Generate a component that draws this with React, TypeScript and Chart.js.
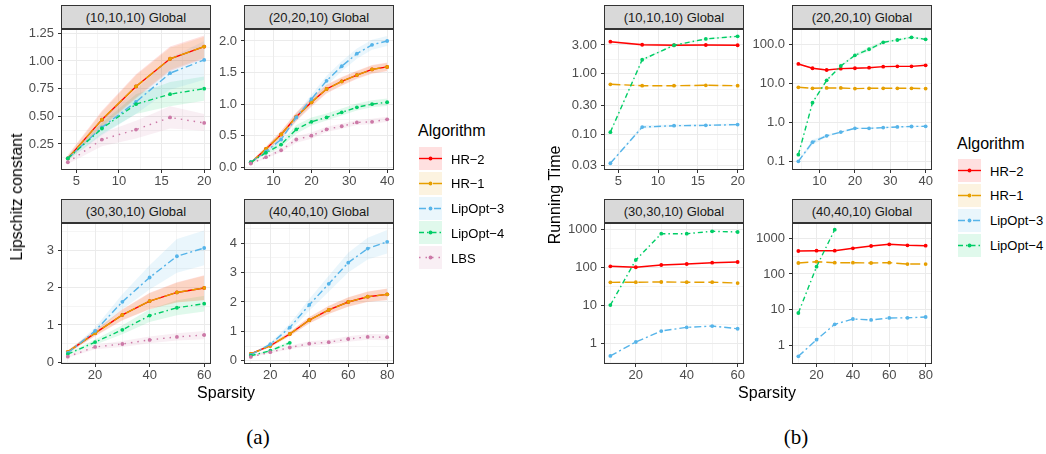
import React, { useEffect, useRef } from "react";
import { Chart, registerables } from "chart.js";

Chart.register(...registerables);

const SANS = "'Liberation Sans', Arial, Helvetica, sans-serif";
const SERIF = "'Liberation Serif', 'Times New Roman', serif";

// ---------------- categories (sparsity) ----------------
const SPARSITY_10 = [4, 8, 12, 16, 20];
const SPARSITY_20 = [4, 8, 12, 16, 20, 24, 28, 32, 36, 40];
const SPARSITY_30 = [10, 20, 30, 40, 50, 60];
const SPARSITY_40 = [10, 20, 30, 40, 50, 60, 70, 80];
const SPARSITY_40_LIPOPT4 = [10, 20, 30];

const ALGORITHMS = ["HR−2", "HR−1", "LipOpt−3", "LipOpt−4", "LBS"];
const FACET_TITLES = ["(10,10,10) Global", "(20,20,10) Global", "(30,30,10) Global", "(40,40,10) Global"];

// ---------------- tick labels ----------------
const X_TICKS_10 = [5, 10, 15, 20];
const X_LABELS_10 = ["5", "10", "15", "20"];
const X_TICKS_20 = [10, 20, 30, 40];
const X_LABELS_20 = ["10", "20", "30", "40"];
const X_TICKS_30 = [20, 40, 60];
const X_LABELS_30 = ["20", "40", "60"];
const X_TICKS_40 = [20, 40, 60, 80];
const X_LABELS_40 = ["20", "40", "60", "80"];

const Y_TICKS_LC1 = [0.25, 0.5, 0.75, 1.0, 1.25];
const Y_LABELS_LC1 = ["0.25", "0.50", "0.75", "1.00", "1.25"];
const Y_TICKS_LC2 = [0, 0.5, 1.0, 1.5, 2.0];
const Y_LABELS_LC2 = ["0.0", "0.5", "1.0", "1.5", "2.0"];
const Y_TICKS_LC3 = [0, 1, 2, 3];
const Y_LABELS_LC3 = ["0", "1", "2", "3"];
const Y_TICKS_LC4 = [0, 1, 2, 3, 4];
const Y_LABELS_LC4 = ["0", "1", "2", "3", "4"];

const Y_TICKS_RT1 = [0.03, 0.1, 0.3, 1, 3];
const Y_LABELS_RT1 = ["0.03", "0.10", "0.30", "1.00", "3.00"];
const Y_TICKS_RT2 = [0.1, 1, 10, 100];
const Y_LABELS_RT2 = ["0.1", "1.0", "10.0", "100.0"];
const Y_TICKS_RT34 = [1, 10, 100, 1000];
const Y_LABELS_RT34 = ["1", "10", "100", "1000"];

// ---------------- Lipschitz constant (a) ----------------
// (10,10,10)
const LC1_HR2 = [0.12, 0.47, 0.77, 1.02, 1.13];
const LC1_HR2_LO = [0.10, 0.40, 0.66, 0.91, 1.02];
const LC1_HR2_HI = [0.15, 0.55, 0.88, 1.13, 1.23];
const LC1_HR1 = [0.12, 0.47, 0.77, 1.02, 1.13];
const LC1_HR1_LO = [0.10, 0.41, 0.67, 0.92, 1.03];
const LC1_HR1_HI = [0.14, 0.54, 0.87, 1.12, 1.22];
const LC1_LIP3 = [0.12, 0.40, 0.63, 0.89, 1.01];
const LC1_LIP3_LO = [0.10, 0.33, 0.52, 0.74, 0.83];
const LC1_LIP3_HI = [0.14, 0.47, 0.74, 1.03, 1.18];
const LC1_LIP4 = [0.12, 0.39, 0.61, 0.70, 0.75];
const LC1_LIP4_LO = [0.10, 0.34, 0.52, 0.59, 0.64];
const LC1_LIP4_HI = [0.14, 0.44, 0.70, 0.81, 0.86];
const LC1_LBS = [0.085, 0.29, 0.38, 0.49, 0.44];
const LC1_LBS_LO = [0.07, 0.23, 0.30, 0.39, 0.37];
const LC1_LBS_HI = [0.10, 0.35, 0.46, 0.59, 0.52];
// (20,20,10)
const LC2_HR2 = [0.07, 0.29, 0.52, 0.80, 1.03, 1.24, 1.36, 1.46, 1.55, 1.59];
const LC2_HR2_LO = [0.05, 0.25, 0.46, 0.73, 0.96, 1.17, 1.29, 1.40, 1.48, 1.52];
const LC2_HR2_HI = [0.09, 0.33, 0.58, 0.87, 1.10, 1.31, 1.43, 1.53, 1.62, 1.66];
const LC2_HR1 = [0.07, 0.29, 0.52, 0.80, 1.03, 1.24, 1.36, 1.46, 1.55, 1.59];
const LC2_HR1_LO = [0.05, 0.25, 0.47, 0.74, 0.97, 1.18, 1.30, 1.41, 1.49, 1.53];
const LC2_HR1_HI = [0.09, 0.33, 0.57, 0.86, 1.09, 1.30, 1.42, 1.52, 1.61, 1.65];
const LC2_LIP3 = [0.08, 0.25, 0.44, 0.79, 1.08, 1.37, 1.60, 1.80, 1.94, 2.00];
const LC2_LIP3_LO = [0.07, 0.22, 0.40, 0.73, 1.01, 1.29, 1.52, 1.72, 1.86, 1.92];
const LC2_LIP3_HI = [0.09, 0.28, 0.48, 0.85, 1.15, 1.45, 1.68, 1.88, 2.02, 2.08];
const LC2_LIP4 = [0.08, 0.23, 0.36, 0.60, 0.72, 0.79, 0.87, 0.95, 1.00, 1.03];
const LC2_LIP4_LO = [0.07, 0.20, 0.31, 0.53, 0.66, 0.74, 0.82, 0.90, 0.95, 0.97];
const LC2_LIP4_HI = [0.09, 0.26, 0.41, 0.67, 0.79, 0.85, 0.93, 1.01, 1.06, 1.09];
const LC2_LBS = [0.06, 0.16, 0.27, 0.44, 0.50, 0.60, 0.65, 0.71, 0.72, 0.76];
const LC2_LBS_LO = [0.05, 0.14, 0.24, 0.39, 0.45, 0.56, 0.61, 0.67, 0.68, 0.72];
const LC2_LBS_HI = [0.07, 0.18, 0.30, 0.49, 0.55, 0.64, 0.69, 0.75, 0.77, 0.80];
// (30,30,10)
const LC3_HR2 = [0.28, 0.78, 1.27, 1.64, 1.87, 1.99];
const LC3_HR2_LO = [0.24, 0.70, 1.12, 1.42, 1.60, 1.66];
const LC3_HR2_HI = [0.32, 0.86, 1.42, 1.86, 2.14, 2.33];
const LC3_HR1 = [0.28, 0.78, 1.27, 1.64, 1.87, 1.99];
const LC3_HR1_LO = [0.24, 0.71, 1.13, 1.43, 1.61, 1.67];
const LC3_HR1_HI = [0.32, 0.85, 1.41, 1.85, 2.13, 2.32];
const LC3_LIP3 = [0.25, 0.84, 1.62, 2.27, 2.84, 3.06];
const LC3_LIP3_LO = [0.22, 0.75, 1.42, 1.95, 2.40, 2.60];
const LC3_LIP3_HI = [0.28, 0.93, 1.82, 2.60, 3.30, 3.53];
const LC3_LIP4 = [0.22, 0.54, 0.87, 1.25, 1.46, 1.57];
const LC3_LIP4_LO = [0.19, 0.47, 0.75, 1.08, 1.26, 1.36];
const LC3_LIP4_HI = [0.25, 0.61, 0.99, 1.42, 1.66, 1.78];
const LC3_LBS = [0.15, 0.41, 0.49, 0.60, 0.68, 0.73];
const LC3_LBS_LO = [0.12, 0.35, 0.41, 0.51, 0.58, 0.62];
const LC3_LBS_HI = [0.18, 0.47, 0.57, 0.69, 0.78, 0.84];
// (40,40,10)
const LC4_HR2 = [0.23, 0.51, 0.91, 1.38, 1.73, 2.00, 2.18, 2.26];
const LC4_HR2_LO = [0.20, 0.46, 0.83, 1.27, 1.59, 1.84, 2.00, 2.06];
const LC4_HR2_HI = [0.26, 0.56, 0.99, 1.49, 1.87, 2.16, 2.36, 2.46];
const LC4_HR1 = [0.23, 0.51, 0.91, 1.38, 1.73, 2.00, 2.18, 2.26];
const LC4_HR1_LO = [0.20, 0.47, 0.84, 1.28, 1.60, 1.85, 2.01, 2.07];
const LC4_HR1_HI = [0.26, 0.55, 0.98, 1.48, 1.86, 2.15, 2.35, 2.45];
const LC4_LIP3 = [0.20, 0.56, 1.13, 1.90, 2.62, 3.34, 3.82, 4.05];
const LC4_LIP3_LO = [0.18, 0.50, 1.00, 1.70, 2.35, 3.00, 3.45, 3.65];
const LC4_LIP3_HI = [0.22, 0.62, 1.26, 2.10, 2.89, 3.68, 4.19, 4.45];
const LC4_LIP4 = [0.17, 0.34, 0.61];
const LC4_LIP4_LO = [0.15, 0.30, 0.55];
const LC4_LIP4_HI = [0.19, 0.38, 0.67];
const LC4_LBS = [0.13, 0.29, 0.45, 0.58, 0.63, 0.74, 0.81, 0.80];
const LC4_LBS_LO = [0.11, 0.25, 0.39, 0.50, 0.55, 0.65, 0.71, 0.70];
const LC4_LBS_HI = [0.15, 0.33, 0.51, 0.66, 0.71, 0.83, 0.91, 0.90];

// ---------------- Running time (b) ----------------
// (10,10,10)
const RT1_HR2 = [3.40, 3.03, 2.97, 3.00, 2.97];
const RT1_HR2_LO = [3.30, 2.90, 2.85, 2.90, 2.88];
const RT1_HR2_HI = [3.50, 3.18, 3.10, 3.10, 3.06];
const RT1_HR1 = [0.67, 0.635, 0.635, 0.645, 0.635];
const RT1_HR1_LO = [0.65, 0.62, 0.62, 0.63, 0.62];
const RT1_HR1_HI = [0.69, 0.65, 0.65, 0.66, 0.65];
const RT1_LIP3 = [0.033, 0.131, 0.138, 0.140, 0.144];
const RT1_LIP3_LO = [0.032, 0.124, 0.133, 0.136, 0.139];
const RT1_LIP3_HI = [0.034, 0.140, 0.145, 0.146, 0.150];
const RT1_LIP4 = [0.108, 1.71, 2.97, 3.78, 4.18];
const RT1_LIP4_LO = [0.104, 1.65, 2.88, 3.65, 4.05];
const RT1_LIP4_HI = [0.112, 1.77, 3.06, 3.91, 4.31];
// (20,20,10)
const RT2_HR2 = [31.3, 24.3, 21.9, 23.7, 24.3, 25.1, 26.7, 27.2, 27.2, 28.9];
const RT2_HR2_LO = [30.0, 23.3, 21.0, 22.8, 23.3, 24.1, 25.6, 26.1, 26.1, 27.7];
const RT2_HR2_HI = [32.6, 25.3, 22.8, 24.6, 25.3, 26.1, 27.8, 28.3, 28.3, 30.1];
const RT2_HR1 = [7.9, 7.45, 7.6, 7.6, 7.3, 7.45, 7.45, 7.45, 7.45, 7.3];
const RT2_HR1_LO = [7.7, 7.3, 7.4, 7.4, 7.1, 7.3, 7.3, 7.3, 7.3, 7.1];
const RT2_HR1_HI = [8.1, 7.6, 7.8, 7.8, 7.5, 7.6, 7.6, 7.6, 7.6, 7.5];
const RT2_LIP3 = [0.10, 0.31, 0.45, 0.56, 0.70, 0.70, 0.73, 0.76, 0.78, 0.79];
const RT2_LIP3_LO = [0.095, 0.26, 0.42, 0.53, 0.67, 0.67, 0.70, 0.73, 0.75, 0.76];
const RT2_LIP3_HI = [0.105, 0.36, 0.48, 0.59, 0.73, 0.73, 0.76, 0.79, 0.81, 0.82];
const RT2_LIP4 = [0.148, 3.18, 11.9, 27.8, 52.2, 74.5, 112, 129, 151, 134];
const RT2_LIP4_LO = [0.14, 3.0, 11.2, 26.0, 48.0, 66.0, 104, 122, 143, 127];
const RT2_LIP4_HI = [0.156, 3.35, 12.6, 29.5, 57.0, 85.0, 122, 137, 160, 142];
// (30,30,10)
const RT3_HR2 = [107, 101, 116, 123, 133, 139];
const RT3_HR1 = [40.7, 41.0, 41.5, 41.0, 41.0, 39.0];
const RT3_LIP3 = [0.48, 1.11, 2.15, 2.69, 2.91, 2.47];
const RT3_LIP4 = [10.3, 157, 767, 767, 885, 850];
// (40,40,10)
const RT4_HR2 = [440, 449, 449, 525, 608, 679, 636, 620];
const RT4_HR1 = [203, 221, 207, 207, 203, 207, 190, 190];
const RT4_LIP3 = [0.49, 1.44, 3.88, 5.47, 5.13, 5.84, 5.90, 6.22];
const RT4_LIP4 = [8.05, 160, 1742];

// ---------------- styles ----------------
const LINE_COLORS = ["#FF0000", "#E69F00", "#56B4E9", "#00CD66", "#CC79A7"];
const BAND_COLORS = [
  "rgba(255,0,0,0.12)",
  "rgba(230,159,0,0.12)",
  "rgba(86,180,233,0.12)",
  "rgba(0,205,102,0.12)",
  "rgba(204,121,167,0.12)",
];
const LINE_DASH: number[][] = [[], [10, 4], [7, 3, 2, 3], [5, 3, 1.5, 3], [1.5, 5]];

const PT = 9;
const PR = 10;
const HX = 24;

type Series = { k: number; x: number[]; mean: number[]; lo?: number[]; hi?: number[] };
type Facet = {
  title: string;
  l: number; t: number; w: number; h: number; wy: number;
  log: boolean;
  xMin: number; xMax: number; xMajor: number[]; xLabels: string[]; xMinor: number[];
  yMin: number; yMax: number; yMajor: number[]; yLabels: string[]; yMinor: number[];
  series: Series[];
};

const LIP_FACETS: Facet[] = [
  {
    title: FACET_TITLES[0], l: 61, t: 29, w: 150, h: 141, wy: 40, log: false,
    xMin: 3.2, xMax: 20.8, xMajor: X_TICKS_10, xLabels: X_LABELS_10, xMinor: [7.5, 12.5, 17.5],
    yMin: 0.015, yMax: 1.289, yMajor: Y_TICKS_LC1, yLabels: Y_LABELS_LC1, yMinor: [0.125, 0.375, 0.625, 0.875, 1.125],
    series: [
      { k: 0, x: SPARSITY_10, mean: LC1_HR2, lo: LC1_HR2_LO, hi: LC1_HR2_HI },
      { k: 1, x: SPARSITY_10, mean: LC1_HR1, lo: LC1_HR1_LO, hi: LC1_HR1_HI },
      { k: 2, x: SPARSITY_10, mean: LC1_LIP3, lo: LC1_LIP3_LO, hi: LC1_LIP3_HI },
      { k: 3, x: SPARSITY_10, mean: LC1_LIP4, lo: LC1_LIP4_LO, hi: LC1_LIP4_HI },
      { k: 4, x: SPARSITY_10, mean: LC1_LBS, lo: LC1_LBS_LO, hi: LC1_LBS_HI },
    ],
  },
  {
    title: FACET_TITLES[1], l: 244, t: 29, w: 150, h: 141, wy: 40, log: false,
    xMin: 2.2, xMax: 41.8, xMajor: X_TICKS_20, xLabels: X_LABELS_20, xMinor: [5, 15, 25, 35],
    yMin: -0.043, yMax: 2.19, yMajor: Y_TICKS_LC2, yLabels: Y_LABELS_LC2, yMinor: [0.25, 0.75, 1.25, 1.75],
    series: [
      { k: 0, x: SPARSITY_20, mean: LC2_HR2, lo: LC2_HR2_LO, hi: LC2_HR2_HI },
      { k: 1, x: SPARSITY_20, mean: LC2_HR1, lo: LC2_HR1_LO, hi: LC2_HR1_HI },
      { k: 2, x: SPARSITY_20, mean: LC2_LIP3, lo: LC2_LIP3_LO, hi: LC2_LIP3_HI },
      { k: 3, x: SPARSITY_20, mean: LC2_LIP4, lo: LC2_LIP4_LO, hi: LC2_LIP4_HI },
      { k: 4, x: SPARSITY_20, mean: LC2_LBS, lo: LC2_LBS_LO, hi: LC2_LBS_HI },
    ],
  },
  {
    title: FACET_TITLES[2], l: 61, t: 223, w: 150, h: 141, wy: 40, log: false,
    xMin: 7.5, xMax: 62.5, xMajor: X_TICKS_30, xLabels: X_LABELS_30, xMinor: [10, 30, 50],
    yMin: -0.046, yMax: 3.73, yMajor: Y_TICKS_LC3, yLabels: Y_LABELS_LC3, yMinor: [0.5, 1.5, 2.5, 3.5],
    series: [
      { k: 0, x: SPARSITY_30, mean: LC3_HR2, lo: LC3_HR2_LO, hi: LC3_HR2_HI },
      { k: 1, x: SPARSITY_30, mean: LC3_HR1, lo: LC3_HR1_LO, hi: LC3_HR1_HI },
      { k: 2, x: SPARSITY_30, mean: LC3_LIP3, lo: LC3_LIP3_LO, hi: LC3_LIP3_HI },
      { k: 3, x: SPARSITY_30, mean: LC3_LIP4, lo: LC3_LIP4_LO, hi: LC3_LIP4_HI },
      { k: 4, x: SPARSITY_30, mean: LC3_LBS, lo: LC3_LBS_LO, hi: LC3_LBS_HI },
    ],
  },
  {
    title: FACET_TITLES[3], l: 244, t: 223, w: 150, h: 141, wy: 40, log: false,
    xMin: 6.5, xMax: 83.5, xMajor: X_TICKS_40, xLabels: X_LABELS_40, xMinor: [10, 30, 50, 70],
    yMin: -0.112, yMax: 4.69, yMajor: Y_TICKS_LC4, yLabels: Y_LABELS_LC4, yMinor: [0.5, 1.5, 2.5, 3.5, 4.5],
    series: [
      { k: 0, x: SPARSITY_40, mean: LC4_HR2, lo: LC4_HR2_LO, hi: LC4_HR2_HI },
      { k: 1, x: SPARSITY_40, mean: LC4_HR1, lo: LC4_HR1_LO, hi: LC4_HR1_HI },
      { k: 2, x: SPARSITY_40, mean: LC4_LIP3, lo: LC4_LIP3_LO, hi: LC4_LIP3_HI },
      { k: 3, x: SPARSITY_40_LIPOPT4, mean: LC4_LIP4, lo: LC4_LIP4_LO, hi: LC4_LIP4_HI },
      { k: 4, x: SPARSITY_40, mean: LC4_LBS, lo: LC4_LBS_LO, hi: LC4_LBS_HI },
    ],
  },
];

const RT_FACETS: Facet[] = [
  {
    title: FACET_TITLES[0], l: 604, t: 29, w: 140, h: 141, wy: 45, log: true,
    xMin: 3.2, xMax: 20.8, xMajor: X_TICKS_10, xLabels: X_LABELS_10, xMinor: [7.5, 12.5, 17.5],
    yMin: 0.0255, yMax: 5.52, yMajor: Y_TICKS_RT1, yLabels: Y_LABELS_RT1, yMinor: [0.0548, 0.173, 0.548, 1.73, 5.48],
    series: [
      { k: 0, x: SPARSITY_10, mean: RT1_HR2, lo: RT1_HR2_LO, hi: RT1_HR2_HI },
      { k: 1, x: SPARSITY_10, mean: RT1_HR1, lo: RT1_HR1_LO, hi: RT1_HR1_HI },
      { k: 2, x: SPARSITY_10, mean: RT1_LIP3, lo: RT1_LIP3_LO, hi: RT1_LIP3_HI },
      { k: 3, x: SPARSITY_10, mean: RT1_LIP4, lo: RT1_LIP4_LO, hi: RT1_LIP4_HI },
    ],
  },
  {
    title: FACET_TITLES[1], l: 792, t: 29, w: 140, h: 141, wy: 45, log: true,
    xMin: 2.2, xMax: 41.8, xMajor: X_TICKS_20, xLabels: X_LABELS_20, xMinor: [5, 15, 25, 35],
    yMin: 0.0598, yMax: 246.6, yMajor: Y_TICKS_RT2, yLabels: Y_LABELS_RT2, yMinor: [0.316, 3.16, 31.6],
    series: [
      { k: 0, x: SPARSITY_20, mean: RT2_HR2, lo: RT2_HR2_LO, hi: RT2_HR2_HI },
      { k: 1, x: SPARSITY_20, mean: RT2_HR1, lo: RT2_HR1_LO, hi: RT2_HR1_HI },
      { k: 2, x: SPARSITY_20, mean: RT2_LIP3, lo: RT2_LIP3_LO, hi: RT2_LIP3_HI },
      { k: 3, x: SPARSITY_20, mean: RT2_LIP4, lo: RT2_LIP4_LO, hi: RT2_LIP4_HI },
    ],
  },
  {
    title: FACET_TITLES[2], l: 604, t: 223, w: 140, h: 141, wy: 45, log: true,
    xMin: 7.5, xMax: 62.5, xMajor: X_TICKS_30, xLabels: X_LABELS_30, xMinor: [10, 30, 50],
    yMin: 0.294, yMax: 1462, yMajor: Y_TICKS_RT34, yLabels: Y_LABELS_RT34, yMinor: [0.316, 3.16, 31.6, 316],
    series: [
      { k: 0, x: SPARSITY_30, mean: RT3_HR2 },
      { k: 1, x: SPARSITY_30, mean: RT3_HR1 },
      { k: 2, x: SPARSITY_30, mean: RT3_LIP3 },
      { k: 3, x: SPARSITY_30, mean: RT3_LIP4 },
    ],
  },
  {
    title: FACET_TITLES[3], l: 792, t: 223, w: 140, h: 141, wy: 45, log: true,
    xMin: 6.5, xMax: 83.5, xMajor: X_TICKS_40, xLabels: X_LABELS_40, xMinor: [10, 30, 50, 70],
    yMin: 0.299, yMax: 2686, yMajor: Y_TICKS_RT34, yLabels: Y_LABELS_RT34, yMinor: [0.316, 3.16, 31.6, 316],
    series: [
      { k: 0, x: SPARSITY_40, mean: RT4_HR2 },
      { k: 1, x: SPARSITY_40, mean: RT4_HR1 },
      { k: 2, x: SPARSITY_40, mean: RT4_LIP3 },
      { k: 3, x: SPARSITY_40_LIPOPT4, mean: RT4_LIP4 },
    ],
  },
];

function tickList(major: number[], labels: string[], minor: number[], min: number, max: number) {
  const all: any[] = [];
  major.forEach((v, i) => all.push({ value: v, lbl: labels[i], minor: false }));
  minor.forEach((v) => all.push({ value: v, lbl: "", minor: true }));
  return all.filter((t) => t.value >= min && t.value <= max).sort((a, b) => a.value - b.value);
}

const isMinor = (ctx: any) => !!(ctx && ctx.tick && ctx.tick.minor);

const borderPlugin = {
  id: "panelBorder",
  afterDraw(chart: any) {
    const { ctx, chartArea: a } = chart;
    ctx.save();
    ctx.strokeStyle = "#333333";
    ctx.lineWidth = 1;
    ctx.strokeRect(a.left + 0.5, a.top + 0.5, a.right - a.left - 1, a.bottom - a.top - 1);
    ctx.restore();
  },
};

function buildConfig(f: Facet): any {
  const datasets: any[] = [];
  f.series.forEach((s) => {
    if (!s.lo || !s.hi) return;
    datasets.push({
      data: s.x.map((x, i) => ({ x, y: s.hi![i] })),
      fill: "+1",
      backgroundColor: BAND_COLORS[s.k],
      borderColor: "rgba(0,0,0,0)",
      borderWidth: 0,
      pointRadius: 0,
      order: 50,
    });
    datasets.push({
      data: s.x.map((x, i) => ({ x, y: s.lo![i] })),
      fill: false,
      backgroundColor: "rgba(0,0,0,0)",
      borderColor: "rgba(0,0,0,0)",
      borderWidth: 0,
      pointRadius: 0,
      order: 50,
    });
  });
  f.series.forEach((s) => {
    datasets.push({
      label: ALGORITHMS[s.k],
      data: s.x.map((x, i) => ({ x, y: s.mean[i] })),
      fill: false,
      borderColor: LINE_COLORS[s.k],
      backgroundColor: LINE_COLORS[s.k],
      borderWidth: 1.4,
      borderDash: LINE_DASH[s.k],
      pointRadius: 1.9,
      pointBorderWidth: 0,
      pointBackgroundColor: LINE_COLORS[s.k],
      tension: 0,
      order: 10 - s.k,
    });
  });

  const xTicks = tickList(f.xMajor, f.xLabels, f.xMinor, f.xMin, f.xMax);
  const yTicks = tickList(f.yMajor, f.yLabels, f.yMinor, f.yMin, f.yMax);
  const grid = {
    color: "#EBEBEB",
    lineWidth: (ctx: any) => (isMinor(ctx) ? 0.5 : 1),
    tickColor: (ctx: any) => (isMinor(ctx) ? "rgba(0,0,0,0)" : "#333333"),
    tickLength: 3,
    tickWidth: 1,
    drawTicks: true,
    drawOnChartArea: true,
  };
  const tickFont = { size: 13, family: SANS };

  return {
    type: "line",
    data: { datasets },
    options: {
      animation: false,
      responsive: false,
      maintainAspectRatio: false,
      devicePixelRatio: 1,
      events: [],
      layout: { padding: { top: PT, right: PR, left: 0, bottom: 0 } },
      plugins: {
        legend: { display: false },
        tooltip: { enabled: false },
        filler: { drawTime: "beforeDatasetsDraw", propagate: false },
      },
      scales: {
        x: {
          type: "linear",
          min: f.xMin,
          max: f.xMax,
          bounds: "data",
          afterBuildTicks: (s: any) => {
            s.ticks = xTicks.map((t) => ({ ...t }));
          },
          afterFit: (s: any) => {
            s.height = HX;
            s.paddingLeft = 0;
            s.paddingRight = 0;
            s.paddingTop = 0;
            s.paddingBottom = 0;
          },
          grid,
          border: { display: false },
          ticks: {
            autoSkip: false,
            maxRotation: 0,
            minRotation: 0,
            padding: 1,
            color: "#4D4D4D",
            font: tickFont,
            callback: (_v: any, i: number, ticks: any[]) => ticks[i].lbl,
          },
        },
        y: {
          type: f.log ? "logarithmic" : "linear",
          min: f.yMin,
          max: f.yMax,
          bounds: "data",
          afterBuildTicks: (s: any) => {
            s.ticks = yTicks.map((t) => ({ ...t }));
          },
          afterFit: (s: any) => {
            s.width = f.wy;
            s.paddingLeft = 0;
            s.paddingRight = 0;
            s.paddingTop = 0;
            s.paddingBottom = 0;
          },
          grid,
          border: { display: false },
          ticks: {
            autoSkip: false,
            padding: 4,
            color: "#4D4D4D",
            font: tickFont,
            callback: (_v: any, i: number, ticks: any[]) => ticks[i].lbl,
          },
        },
      },
    },
    plugins: [borderPlugin],
  };
}

function FacetChart({ f }: { f: Facet }) {
  const ref = useRef<HTMLCanvasElement | null>(null);
  useEffect(() => {
    if (!ref.current) return;
    const chart = new Chart(ref.current, buildConfig(f));
    return () => chart.destroy();
  }, [f]);
  const cw = f.wy + f.w + PR;
  const ch = PT + f.h + HX;
  return (
    <>
      <canvas
        ref={ref}
        width={cw}
        height={ch}
        style={{ position: "absolute", left: f.l - f.wy, top: f.t - PT, width: cw, height: ch }}
      />
      <div
        style={{
          position: "absolute",
          left: f.l,
          top: f.t - 24,
          width: f.w,
          height: 24,
          boxSizing: "border-box",
          background: "#D9D9D9",
          border: "1px solid #333333",
          color: "#1A1A1A",
          font: `13px ${SANS}`,
          display: "flex",
          alignItems: "center",
          justifyContent: "center",
          whiteSpace: "nowrap",
        }}
      >
        {f.title}
      </div>
    </>
  );
}

function Legend({ left, titleY, keyTop, step, count }: { left: number; titleY: number; keyTop: number; step: number; count: number }) {
  const items = ALGORITHMS.slice(0, count);
  return (
    <>
      <div
        style={{
          position: "absolute",
          left,
          top: titleY,
          transform: "translateY(-50%)",
          font: `16px ${SANS}`,
          color: "#000",
          lineHeight: 1,
          whiteSpace: "nowrap",
        }}
      >
        Algorithm
      </div>
      {items.map((name, k) => {
        const top = keyTop + k * step;
        return (
          <React.Fragment key={name}>
            <svg width={23} height={23} style={{ position: "absolute", left: left + 1, top }}>
              <rect x={0} y={0} width={23} height={23} fill={BAND_COLORS[k]} />
              <line
                x1={0}
                y1={11.5}
                x2={23}
                y2={11.5}
                stroke={LINE_COLORS[k]}
                strokeWidth={1.4}
                strokeDasharray={LINE_DASH[k].length ? LINE_DASH[k].join(" ") : undefined}
              />
              <circle cx={11.5} cy={11.5} r={1.9} fill={LINE_COLORS[k]} />
            </svg>
            <div
              style={{
                position: "absolute",
                left: left + 33,
                top: top + 11.5,
                transform: "translateY(-50%)",
                font: `13px ${SANS}`,
                color: "#000",
                lineHeight: 1,
                whiteSpace: "nowrap",
              }}
            >
              {name}
            </div>
          </React.Fragment>
        );
      })}
    </>
  );
}

function Label({ x, y, text, size, rotate, family }: { x: number; y: number; text: string; size: number; rotate?: boolean; family?: string }) {
  return (
    <div
      style={{
        position: "absolute",
        left: x,
        top: y,
        transform: `translate(-50%, -50%)${rotate ? " rotate(-90deg)" : ""}`,
        font: `${size}px ${family || SANS}`,
        color: "#000",
        whiteSpace: "nowrap",
        lineHeight: 1,
      }}
    >
      {text}
    </div>
  );
}

export default function App() {
  return (
    <div style={{ position: "absolute", left: 0, top: 0, width: 1046, height: 454, background: "#fff", overflow: "hidden" }}>
      {LIP_FACETS.map((f, i) => (
        <FacetChart key={"a" + i} f={f} />
      ))}
      {RT_FACETS.map((f, i) => (
        <FacetChart key={"b" + i} f={f} />
      ))}
      <Label x={17} y={197} text="Lipschitz constant" size={16} rotate />
      <Label x={555} y={195} text="Running Time" size={16} rotate />
      <Label x={226} y={393} text="Sparsity" size={16} />
      <Label x={767} y={393} text="Sparsity" size={16} />
      <Label x={258} y={437} text="(a)" size={21} family={SERIF} />
      <Label x={796} y={437} text="(b)" size={21} family={SERIF} />
      <Legend left={418} titleY={131} keyTop={147} step={24.75} count={5} />
      <Legend left={957} titleY={144} keyTop={159} step={24.9} count={4} />
    </div>
  );
}
